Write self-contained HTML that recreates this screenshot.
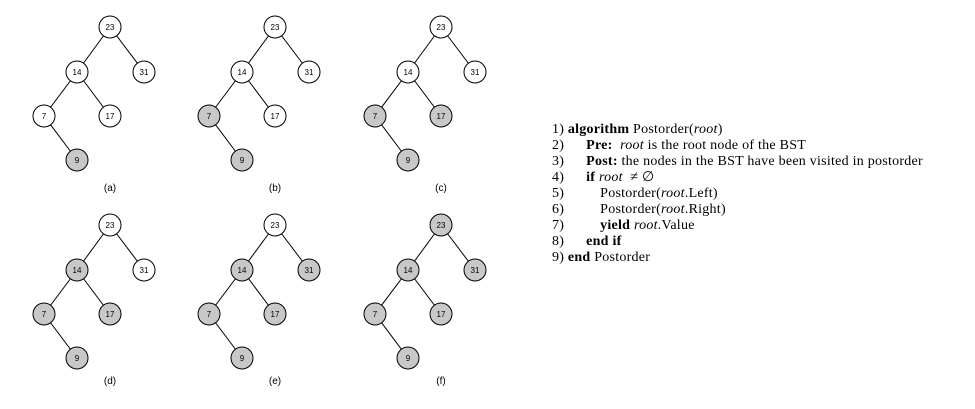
<!DOCTYPE html>
<html><head><meta charset="utf-8"><style>
body{margin:0;width:975px;height:409px;background:#fff;position:relative;overflow:hidden}
.l{position:absolute;left:552px;font-family:"Liberation Serif",serif;font-size:14px;letter-spacing:0.25px;color:#000;white-space:nowrap;line-height:16px}
</style></head><body>
<svg width="975" height="409" style="position:absolute;left:0;top:0" font-family="Liberation Sans, sans-serif">
<defs>
<g id="edges" stroke="#000" stroke-width="1">
<line x1="0" y1="0" x2="-33" y2="45"/><line x1="0" y1="0" x2="34" y2="45"/>
<line x1="-33" y1="45" x2="-66" y2="89"/><line x1="-33" y1="45" x2="0" y2="89"/>
<line x1="-66" y1="89" x2="-33" y2="133"/>
</g>
</defs>
<g transform="translate(110,27)"><use href="#edges"/>
<circle cx="0" cy="0" r="11" fill="#fff" stroke="#000"/><circle cx="-33" cy="45" r="11" fill="#fff" stroke="#000"/><circle cx="34" cy="45" r="11" fill="#fff" stroke="#000"/><circle cx="-66" cy="89" r="11" fill="#fff" stroke="#000"/><circle cx="0" cy="89" r="11" fill="#fff" stroke="#000"/><circle cx="-33" cy="133" r="11" fill="#c8c8c8" stroke="#000"/>
</g>
<g transform="translate(275,27)"><use href="#edges"/>
<circle cx="0" cy="0" r="11" fill="#fff" stroke="#000"/><circle cx="-33" cy="45" r="11" fill="#fff" stroke="#000"/><circle cx="34" cy="45" r="11" fill="#fff" stroke="#000"/><circle cx="-66" cy="89" r="11" fill="#c8c8c8" stroke="#000"/><circle cx="0" cy="89" r="11" fill="#fff" stroke="#000"/><circle cx="-33" cy="133" r="11" fill="#c8c8c8" stroke="#000"/>
</g>
<g transform="translate(441,27)"><use href="#edges"/>
<circle cx="0" cy="0" r="11" fill="#fff" stroke="#000"/><circle cx="-33" cy="45" r="11" fill="#fff" stroke="#000"/><circle cx="34" cy="45" r="11" fill="#fff" stroke="#000"/><circle cx="-66" cy="89" r="11" fill="#c8c8c8" stroke="#000"/><circle cx="0" cy="89" r="11" fill="#c8c8c8" stroke="#000"/><circle cx="-33" cy="133" r="11" fill="#c8c8c8" stroke="#000"/>
</g>
<g transform="translate(110,225)"><use href="#edges"/>
<circle cx="0" cy="0" r="11" fill="#fff" stroke="#000"/><circle cx="-33" cy="45" r="11" fill="#c8c8c8" stroke="#000"/><circle cx="34" cy="45" r="11" fill="#fff" stroke="#000"/><circle cx="-66" cy="89" r="11" fill="#c8c8c8" stroke="#000"/><circle cx="0" cy="89" r="11" fill="#c8c8c8" stroke="#000"/><circle cx="-33" cy="133" r="11" fill="#c8c8c8" stroke="#000"/>
</g>
<g transform="translate(275,225)"><use href="#edges"/>
<circle cx="0" cy="0" r="11" fill="#fff" stroke="#000"/><circle cx="-33" cy="45" r="11" fill="#c8c8c8" stroke="#000"/><circle cx="34" cy="45" r="11" fill="#c8c8c8" stroke="#000"/><circle cx="-66" cy="89" r="11" fill="#c8c8c8" stroke="#000"/><circle cx="0" cy="89" r="11" fill="#c8c8c8" stroke="#000"/><circle cx="-33" cy="133" r="11" fill="#c8c8c8" stroke="#000"/>
</g>
<g transform="translate(441,225)"><use href="#edges"/>
<circle cx="0" cy="0" r="11" fill="#c8c8c8" stroke="#000"/><circle cx="-33" cy="45" r="11" fill="#c8c8c8" stroke="#000"/><circle cx="34" cy="45" r="11" fill="#c8c8c8" stroke="#000"/><circle cx="-66" cy="89" r="11" fill="#c8c8c8" stroke="#000"/><circle cx="0" cy="89" r="11" fill="#c8c8c8" stroke="#000"/><circle cx="-33" cy="133" r="11" fill="#c8c8c8" stroke="#000"/>
</g>
<g font-size="8" text-anchor="middle">
<g transform="translate(110,27)"><text x="0" y="3">23</text><text x="-33" y="48">14</text><text x="34" y="48">31</text><text x="-66" y="92">7</text><text x="0" y="92">17</text><text x="-33" y="136">9</text><text x="0" y="164" font-size="10">(a)</text></g>
<g transform="translate(275,27)"><text x="0" y="3">23</text><text x="-33" y="48">14</text><text x="34" y="48">31</text><text x="-66" y="92">7</text><text x="0" y="92">17</text><text x="-33" y="136">9</text><text x="0" y="164" font-size="10">(b)</text></g>
<g transform="translate(441,27)"><text x="0" y="3">23</text><text x="-33" y="48">14</text><text x="34" y="48">31</text><text x="-66" y="92">7</text><text x="0" y="92">17</text><text x="-33" y="136">9</text><text x="0" y="164" font-size="10">(c)</text></g>
<g transform="translate(110,225)"><text x="0" y="3">23</text><text x="-33" y="48">14</text><text x="34" y="48">31</text><text x="-66" y="92">7</text><text x="0" y="92">17</text><text x="-33" y="136">9</text><text x="0" y="159" font-size="10">(d)</text></g>
<g transform="translate(275,225)"><text x="0" y="3">23</text><text x="-33" y="48">14</text><text x="34" y="48">31</text><text x="-66" y="92">7</text><text x="0" y="92">17</text><text x="-33" y="136">9</text><text x="0" y="159" font-size="10">(e)</text></g>
<g transform="translate(441,225)"><text x="0" y="3">23</text><text x="-33" y="48">14</text><text x="34" y="48">31</text><text x="-66" y="92">7</text><text x="0" y="92">17</text><text x="-33" y="136">9</text><text x="0" y="159" font-size="10">(f)</text></g>
</g>
</svg>
<div class="l" style="top:122px">1) <b>algorithm</b> Postorder(<i>root</i>)</div>
<div class="l" style="top:138px">2)<span style="margin-left:22px"><b>Pre:</b>&nbsp; <i>root</i> is the root node of the BST</span></div>
<div class="l" style="top:154px">3)<span style="margin-left:22px"><b>Post:</b> the nodes in the BST have been visited in postorder</span></div>
<div class="l" style="top:170px">4)<span style="margin-left:22px"><b>if</b> <i>root</i> &nbsp;≠ ∅</span></div>
<div class="l" style="top:186px">5)<span style="margin-left:36px">Postorder(<i>root</i>.Left)</span></div>
<div class="l" style="top:202px">6)<span style="margin-left:36px">Postorder(<i>root</i>.Right)</span></div>
<div class="l" style="top:218px">7)<span style="margin-left:36px"><b>yield</b> <i>root</i>.Value</span></div>
<div class="l" style="top:234px">8)<span style="margin-left:22px"><b>end if</b></span></div>
<div class="l" style="top:250px">9) <b>end</b> Postorder</div>
</body></html>
